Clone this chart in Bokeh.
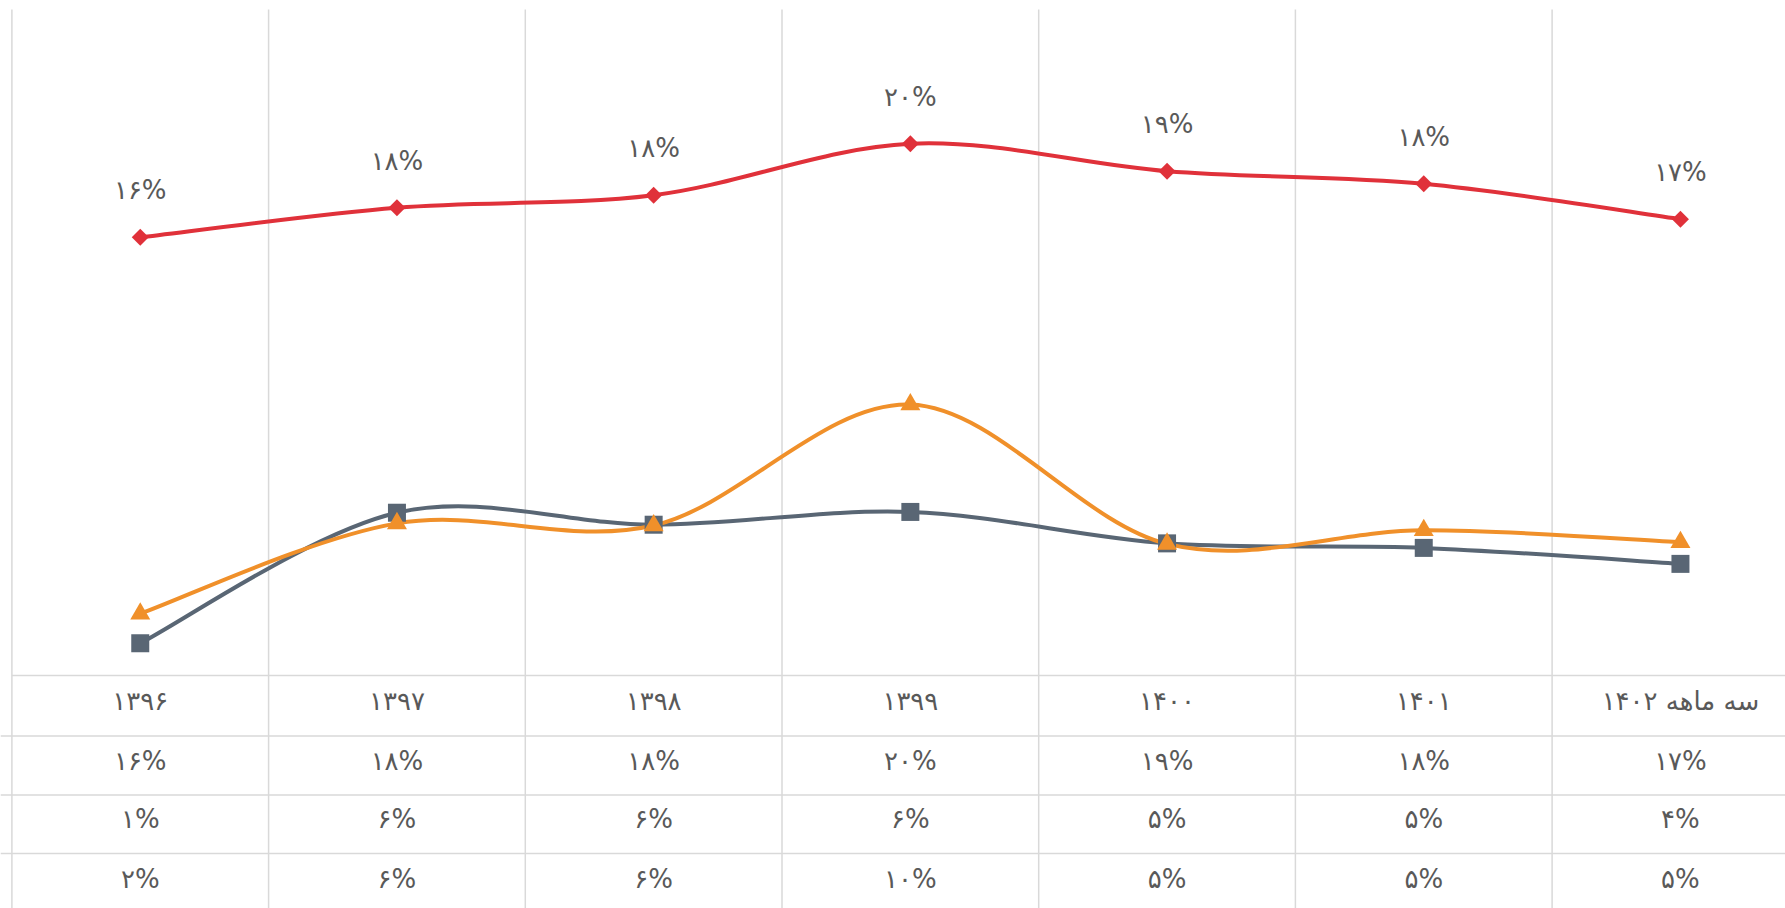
import math
from bokeh.plotting import figure
from bokeh.models import Range1d, ColumnDataSource
from bokeh.core.properties import value
from bokeh.embed import file_html
from bokeh.resources import INLINE

# ---------------- data ----------------
categories = ["۱۳۹۶", "۱۳۹۷", "۱۳۹۸", "۱۳۹۹", "۱۴۰۰", "۱۴۰۱", "سه ماهه ۱۴۰۲"]
series_red = [0.1645, 0.1756, 0.1803, 0.1996, 0.1893, 0.1846, 0.1713]
series_gray = [0.0121, 0.0611, 0.0566, 0.0614, 0.0496, 0.0479, 0.0419]
series_orange = [0.0232, 0.0571, 0.0563, 0.1017, 0.0494, 0.0545, 0.0500]
y_max = 0.25

RED = "#e0313a"
GRAY = "#596674"
ORANGE = "#f0902a"
TEXT = "#595959"
GRID = "#d9d9d9"
FONT = "DejaVu Sans"
FS = "26px"

FA = "۰۱۲۳۴۵۶۷۸۹"


def to_fa_pct(v):
    s = str(int(round(v * 100)))
    return "".join(FA[int(c)] for c in s) + "%"


# ---------------- layout helpers (pixels -> data) ----------------
W, H = 1785, 908
ORG_X, ORG_Y = 0, 0
X0_PX, CAT_PX = 139.75, 256.7   # screen x of first category centre, category width
Y0_PX, UNIT_PX = 675.0, 2664.0  # screen y of zero, pixels per unit


def vx(px):
    return (px - X0_PX) / CAT_PX


def vy(py):
    return (Y0_PX - py) / UNIT_PX


x_lo, x_hi = vx(ORG_X), vx(ORG_X + W)
y_lo, y_hi = vy(ORG_Y + H), vy(ORG_Y)

p = figure(width=W, height=H, x_range=Range1d(x_lo, x_hi), y_range=Range1d(y_lo, y_hi),
           output_backend="svg", toolbar_location=None, min_border=0)
p.axis.visible = False
p.grid.visible = False
p.outline_line_color = None
p.background_fill_color = "white"
p.border_fill_color = "white"

n = len(categories)
xs = list(range(n))

# vertical grid / table lines
vx_lines = [k - 0.5 for k in range(n + 1)]
p.segment(x0=vx_lines, y0=[y_max] * len(vx_lines), x1=vx_lines, y1=[y_lo] * len(vx_lines),
          line_color=GRID, line_width=1.5)
# horizontal: axis baseline and table rows
p.segment(x0=[-0.5], y0=[0], x1=[x_hi], y1=[0], line_color=GRID, line_width=1.5)
row_lines = [vy(735.5), vy(794.5), vy(853)]
p.segment(x0=[x_lo] * 3, y0=row_lines, x1=[x_hi] * 3, y1=row_lines, line_color=GRID, line_width=1.5)


# smooth (Excel-like) curves
def bezier_segments(ys):
    pts = list(zip(xs, ys))
    m = len(pts)
    d = dict(x0=[], y0=[], x1=[], y1=[], cx0=[], cy0=[], cx1=[], cy1=[])
    for i in range(m - 1):
        p0 = pts[max(i - 1, 0)]
        p1 = pts[i]
        p2 = pts[i + 1]
        p3 = pts[min(i + 2, m - 1)]
        d["x0"].append(p1[0]); d["y0"].append(p1[1])
        d["x1"].append(p2[0]); d["y1"].append(p2[1])
        d["cx0"].append(p1[0] + (p2[0] - p0[0]) / 6)
        d["cy0"].append(p1[1] + (p2[1] - p0[1]) / 6)
        d["cx1"].append(p2[0] - (p3[0] - p1[0]) / 6)
        d["cy1"].append(p2[1] - (p3[1] - p1[1]) / 6)
    return ColumnDataSource(d)


for ys, col in [(series_gray, GRAY), (series_orange, ORANGE), (series_red, RED)]:
    p.bezier(x0="x0", y0="y0", x1="x1", y1="y1", cx0="cx0", cy0="cy0", cx1="cx1", cy1="cy1",
             source=bezier_segments(ys), line_color=col, line_width=4)

p.scatter(xs, series_gray, marker="square", size=18, fill_color=GRAY, line_color=None)
p.scatter(xs, series_orange, marker="triangle", size=20, fill_color=ORANGE, line_color=None)
p.scatter(xs, series_red, marker="square", angle=math.pi / 4, size=12, fill_color=RED, line_color=None)

# data labels above red series
p.text(xs, series_red, text=[to_fa_pct(v) for v in series_red], y_offset=-47,
       text_align="center", text_baseline="middle", text_color=TEXT,
       text_font=value(FONT), text_font_size=FS)

# data table
p.text(xs, [vy(700)] * n, text=categories, text_align="center", text_baseline="middle",
       text_color=TEXT, text_font=value(FONT), text_font_size=FS)
for ys, py in [(series_red, 760), (series_gray, 818.5), (series_orange, 878)]:
    p.text(xs, [vy(py)] * n, text=[to_fa_pct(v) for v in ys], text_align="center",
           text_baseline="middle", text_color=TEXT, text_font=value(FONT), text_font_size=FS)

open("out.html", "w").write(file_html(p, INLINE))
